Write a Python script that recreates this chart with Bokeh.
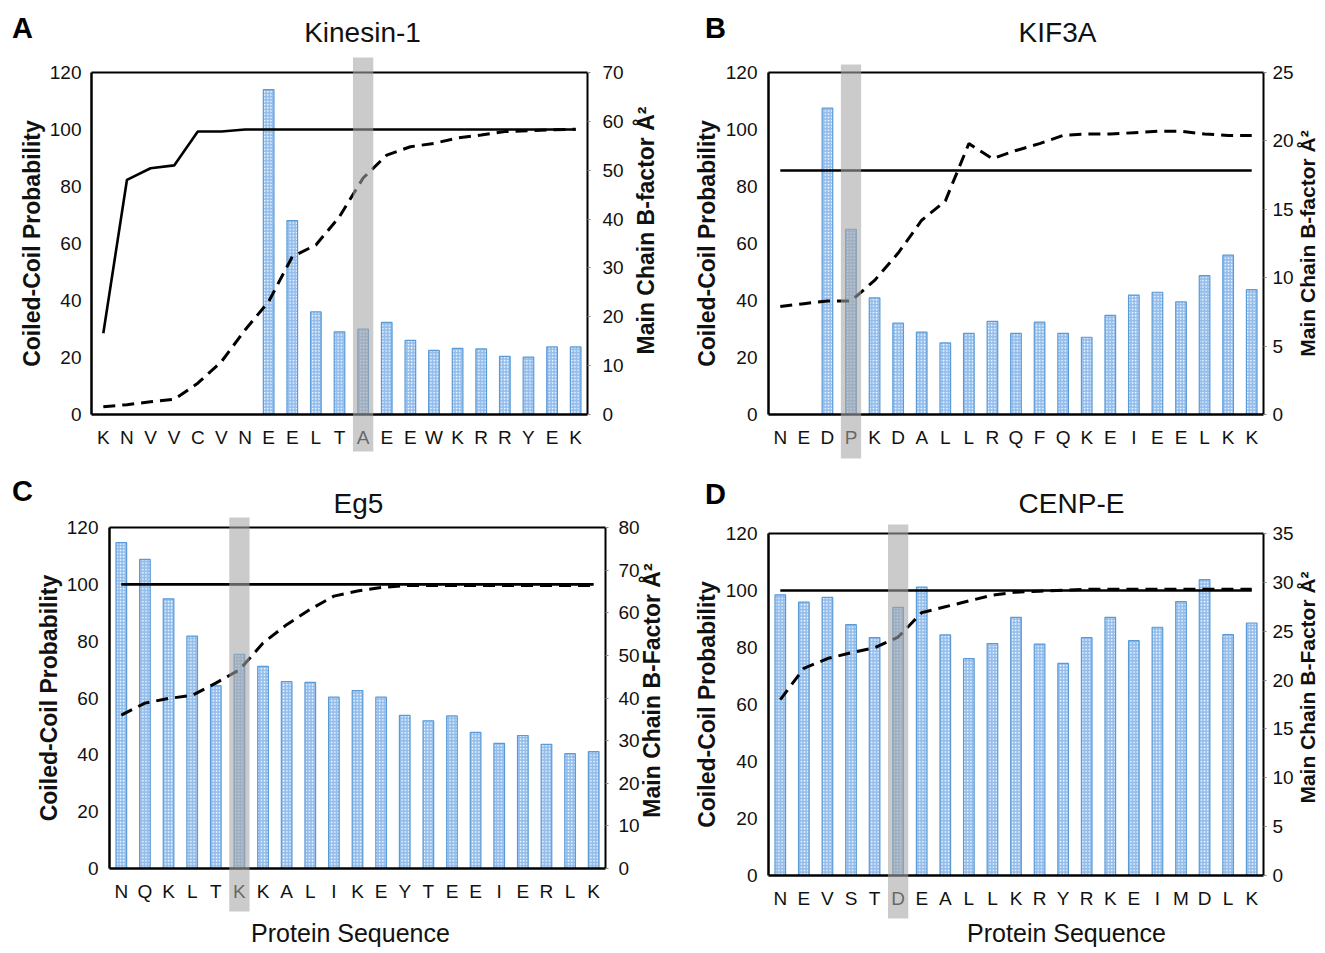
import math
from bokeh.plotting import figure
from bokeh.models import Range1d, LinearAxis, FixedTicker, BoxAnnotation, Label
from bokeh.layouts import column, row
from bokeh.embed import file_html
from bokeh.resources import INLINE

FONT = "Liberation Sans"

# ---------------- data ----------------
seq_a = ["K", "N", "V", "V", "C", "V", "N", "E", "E", "L", "T", "A", "E", "E", "W", "K", "R", "R", "Y", "E", "K"]
bars_a = [0, 0, 0, 0, 0, 0, 0, 114, 68, 36, 29, 30, 32.3, 26, 22.5, 23.2, 23, 20.4, 20.1, 23.7, 23.7]
solid_a = [28.5, 82.3, 86.4, 87.4, 99.3, 99.3, 100, 100, 100, 100, 100, 100, 100, 100, 100, 100, 100, 100, 100, 100, 100]
dash_a = [1.6, 2.0, 2.6, 3.1, 6.4, 10.8, 17.3, 23.1, 32.3, 34.7, 40.5, 48.4, 53.1, 54.8, 55.5, 56.6, 57.2, 57.9, 58.1, 58.3, 58.4]

seq_b = ["N", "E", "D", "P", "K", "D", "A", "L", "L", "R", "Q", "F", "Q", "K", "E", "I", "E", "E", "L", "K", "K"]
bars_b = [0, 0, 107.5, 65, 40.9, 32.1, 28.9, 25.1, 28.5, 32.7, 28.5, 32.4, 28.5, 27.1, 34.8, 41.9, 42.9, 39.5, 48.7, 55.9, 43.8]
solid_b = [85.6] * 21
dash_b = [7.9, 8.1, 8.3, 8.3, 9.8, 11.8, 14.2, 15.6, 19.8, 18.7, 19.3, 19.8, 20.4, 20.5, 20.5, 20.6, 20.7, 20.7, 20.5, 20.4, 20.4]

seq_c = ["N", "Q", "K", "L", "T", "K", "K", "A", "L", "I", "K", "E", "Y", "T", "E", "E", "I", "E", "R", "L", "K"]
bars_c = [114.7, 108.8, 94.9, 81.8, 64.3, 75.4, 71.1, 65.8, 65.5, 60.3, 62.6, 60.3, 53.9, 52.0, 53.7, 47.9, 44.0, 46.8, 43.7, 40.4, 41.1]
solid_c = [100] * 21
dash_c = [36.0, 38.8, 39.9, 40.6, 43.5, 46.6, 52.9, 57.2, 60.8, 63.9, 65.1, 65.9, 66.4, 66.4, 66.4, 66.4, 66.4, 66.4, 66.4, 66.4, 66.4]

seq_d = ["N", "E", "V", "S", "T", "D", "E", "A", "L", "L", "K", "R", "Y", "R", "K", "E", "I", "M", "D", "L", "K"]
bars_d = [98.5, 95.9, 97.6, 88.0, 83.5, 94.1, 101.2, 84.4, 76.1, 81.4, 90.6, 81.2, 74.4, 83.5, 90.6, 82.4, 87.1, 96.1, 103.8, 84.5, 88.6]
solid_d = [100] * 21
dash_d = [18.0, 21.2, 22.2, 22.8, 23.3, 24.4, 26.9, 27.5, 28.1, 28.7, 29.0, 29.1, 29.2, 29.3, 29.3, 29.3, 29.3, 29.3, 29.3, 29.3, 29.3]

left_ticks = [0, 20, 40, 60, 80, 100, 120]
right_ticks_a = [0, 10, 20, 30, 40, 50, 60, 70]
right_ticks_b = [0, 5, 10, 15, 20, 25]
right_ticks_c = [0, 10, 20, 30, 40, 50, 60, 70, 80]
right_ticks_d = [0, 5, 10, 15, 20, 25, 30, 35]

LMAX = 120


def style_ticks(ax, size="19px"):
    ax.major_label_text_font = FONT
    ax.major_label_text_font_size = size
    ax.major_label_text_color = "#111111"
    ax.minor_tick_line_color = None
    ax.axis_line_color = "black"


def make_panel(seq, bars, solid, dashed, rticks, band_idx, title, letter, right_label,
               W, H, bl, br, bt, bb, lstand, llab, rstand,
               title_px, letter_px, band_px, rlabel_px, xlabel_px=None, rlabel_size="23px"):
    """The plotting frame covers the whole figure; the boxed chart area is
    (bl, bt) .. (W - br, H - bb) and the axes are pinned to its edges."""
    n = len(seq)
    fw = W - bl - br
    fh = H - bt - bb
    bx0, bx1 = -0.5, n - 0.5
    ux = (bx1 - bx0) / fw          # data units per pixel (x)
    uy = LMAX / fh                  # data units per pixel (left y)
    rmax = rticks[-1]
    ur = rmax / fh                  # data units per pixel (right y)

    xr = Range1d(bx0 - bl * ux, bx1 + br * ux)
    yr = Range1d(0 - bb * uy, LMAX + bt * uy)

    def dx(px):
        return xr.start + px * ux

    def dy(py):
        return yr.end - py * uy

    p = figure(width=W, height=H, x_range=xr, y_range=yr,
               output_backend="svg", toolbar_location=None,
               min_border_left=0, min_border_right=0, min_border_top=0, min_border_bottom=0)
    p.xgrid.visible = False
    p.ygrid.visible = False
    p.outline_line_color = None
    p.background_fill_color = "white"
    p.border_fill_color = "white"
    p.extra_y_ranges = {"r": Range1d(0 - bb * ur, rmax + bt * ur)}

    idx = list(range(n))
    p.vbar(x=idx, top=bars, width=0.45, bottom=0,
           fill_color="#93bdec", line_color="#5b9bd5", line_width=1.2,
           hatch_pattern="dot", hatch_color="white", hatch_scale=3.2, hatch_weight=1.6)
    p.line(idx, solid, line_color="black", line_width=2.6)
    p.line(idx, dashed, line_color="black", line_width=3, line_dash="12 7", y_range_name="r")

    # bottom axis: sequence letters
    xa = p.xaxis[0]
    xa.fixed_location = 0
    xa.bounds = (bx0, bx1)
    xa.ticker = FixedTicker(ticks=idx)
    xa.major_label_overrides = {i: s for i, s in enumerate(seq)}
    xa.major_tick_line_color = None
    xa.axis_line_width = 2.5
    xa.major_label_standoff = 6
    style_ticks(xa)

    # top edge of the box
    ta = LinearAxis(fixed_location=LMAX, bounds=(bx0, bx1), ticker=FixedTicker(ticks=[]))
    ta.axis_line_width = 2
    ta.axis_line_color = "black"
    ta.major_tick_line_color = None
    ta.minor_tick_line_color = None
    p.add_layout(ta, "above")

    # left axis
    ya = p.yaxis[0]
    ya.fixed_location = bx0
    ya.bounds = (0, LMAX)
    ya.ticker = FixedTicker(ticks=left_ticks)
    ya.major_tick_out = 0
    ya.major_tick_in = 0
    ya.axis_line_width = 2.5
    ya.major_label_standoff = lstand
    style_ticks(ya)
    ya.axis_label = "Coiled-Coil Probability"
    ya.axis_label_text_font = FONT
    ya.axis_label_text_font_style = "bold"
    ya.axis_label_text_font_size = "23px"
    ya.axis_label_text_color = "#111111"
    ya.axis_label_standoff = llab

    # right axis (B-factor)
    ra = LinearAxis(y_range_name="r", fixed_location=bx1, bounds=(0, rmax),
                    ticker=FixedTicker(ticks=rticks))
    ra.major_tick_out = 3
    ra.major_tick_in = 0
    ra.major_tick_line_color = "#888888"
    ra.axis_line_width = 2
    ra.major_label_standoff = rstand
    style_ticks(ra)
    p.add_layout(ra, "right")

    # right axis title, reading bottom-to-top
    p.add_layout(Label(x=dx(rlabel_px[0]), y=dy(rlabel_px[1]), text=right_label, angle=math.pi / 2,
                       text_font=FONT, text_font_size=rlabel_size, text_font_style="bold",
                       text_align="center", text_baseline="middle", text_color="#111111"))

    # highlight band over the chosen residue (drawn on top, reaches past the box)
    band = BoxAnnotation(left=band_idx - 0.43, right=band_idx + 0.43,
                         top=dy(band_px[0]), bottom=dy(band_px[1]),
                         fill_color="#a6a6a6", fill_alpha=0.58, line_color=None, level="overlay")
    p.add_layout(band)

    p.add_layout(Label(x=dx(title_px[0]), y=dy(title_px[1]), text=title, text_font=FONT,
                       text_font_size="28px", text_align="center", text_baseline="middle",
                       text_color="#111111"))
    p.add_layout(Label(x=dx(letter_px[0]), y=dy(letter_px[1]), text=letter, text_font=FONT,
                       text_font_size="29px", text_font_style="bold", text_align="center",
                       text_baseline="middle", text_color="black"))
    if xlabel_px is not None:
        p.add_layout(Label(x=dx(xlabel_px[0]), y=dy(xlabel_px[1]), text="Protein Sequence",
                           text_font=FONT, text_font_size="25px", text_align="center",
                           text_baseline="middle", text_color="#111111"))
    return p


pa = make_panel(seq_a, bars_a, solid_a, dash_a, right_ticks_a, 11, "Kinesin-1", "A",
                "Main Chain B-factor Å²", 660, 465, 91, 73, 72, 51, 10, 2, 12,
                (362, 32), (22, 27), (57, 451), (645, 230))
pb = make_panel(seq_b, bars_b, solid_b, dash_b, right_ticks_b, 3, "KIF3A", "B",
                "Main Chain B-factor Å²", 664, 465, 108, 61, 72, 51, 11, 3, 6,
                (397, 32), (55, 27), (64, 458), (647, 243), rlabel_size="21px")
pc = make_panel(seq_c, bars_c, solid_c, dash_c, right_ticks_c, 5, "Eg5", "C",
                "Main Chain B-Factor Å²", 668, 487, 109, 63, 62, 84, 11, 2, 10,
                (358, 38), (22, 25), (52, 446), (651, 225), xlabel_px=(350, 467))
pd_ = make_panel(seq_d, bars_d, solid_d, dash_d, right_ticks_d, 5, "CENP-E", "D",
                 "Main Chain B-Factor Å²", 656, 487, 100, 61, 68, 77, 11, 3, 6,
                 (403, 38), (47, 28), (59, 453), (639, 222), xlabel_px=(398, 467),
                 rlabel_size="21px")

layout = column(row(pa, pb), row(pc, pd_))
open("out.html", "w").write(file_html(layout, INLINE))
